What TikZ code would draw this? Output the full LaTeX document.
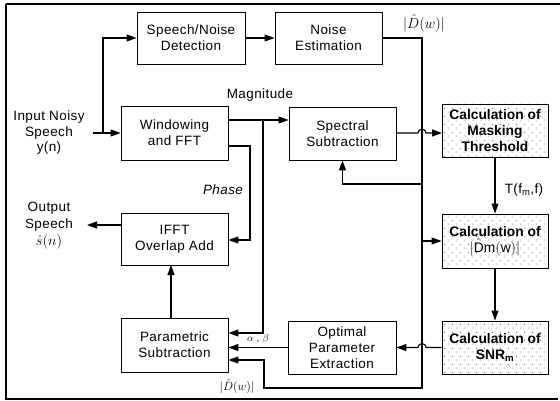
\documentclass[tikz,border=0pt]{standalone}
\usepackage{fontspec}
\setmainfont[LetterSpace=3]{Liberation Sans}
\newfontfamily\calcfont{Liberation Sans}
\usetikzlibrary{arrows.meta,patterns}
\pgfdeclarepatternformonly{sparsedots}{\pgfqpoint{0pt}{0pt}}{\pgfqpoint{8pt}{8pt}}{\pgfqpoint{8pt}{8pt}}{%
  \pgfpathcircle{\pgfqpoint{1pt}{1pt}}{0.55pt}%
  \pgfpathcircle{\pgfqpoint{5pt}{5pt}}{0.55pt}%
  \pgfusepath{fill}}
\tikzset{
  blk/.style={draw, line width=0.9pt, minimum width=107pt, minimum height=53pt,
    align=center, inner sep=0pt, font=\fontsize{13.5}{16}\selectfont},
  dblk/.style={blk, pattern=sparsedots, pattern color=black!75,
    font=\calcfont\fontsize{13.8}{16}\selectfont\bfseries},
  lbl/.style={align=center, inner sep=0pt, font=\fontsize{13.5}{15.5}\selectfont},
  arr/.style={-{Triangle[length=10pt,width=7pt]}, line width=1.1pt},
  frame/.style={line width=1.6pt}
}
\begin{document}
\begin{tikzpicture}[x=1pt,y=-1pt]
\useasboundingbox (0,0) rectangle (560,401);
% frame
\coordinate (f1) at (560,4);
\coordinate (f2) at (6,4);
\coordinate (f3) at (6,399);
\coordinate (f4) at (558,399);
\draw[frame, line width=2pt] (f1) -- (f2);
\draw[frame] (f2) -- (f3) -- (f4);

% blocks
\node[blk, minimum width=108pt, minimum height=52pt] (sn) at (191,38) {Speech/Noise\\Detection};
\node[blk, minimum height=52pt] (ne) at (328.5,38) {Noise\\Estimation};
\node[blk, minimum height=54pt] (wf) at (174.5,133) {Windowing\\and FFT};
\node[blk] (ss) at (342.5,133.5) {Spectral\\Subtraction};
\node[dblk, minimum width=106pt] (mt) at (495,130.5) {Calculation of\\Masking\\Threshold};
\node[blk, minimum height=52pt] (ifft) at (174.5,239) {IFFT\\Overlap Add};
\node[blk, minimum height=54pt] (ps) at (174.5,345) {Parametric\\Subtraction};
\node[blk, minimum width=108pt] (op) at (342,347.5) {Optimal\\Parameter\\Extraction};
\node[dblk, minimum width=106pt, minimum height=54pt] (dm) at (495,241) {Calculation of\\\mdseries$|\hat{\mathrm{D}}\mathrm{m}(\mathrm{w})|$};
\node[dblk, minimum width=106pt] (snr) at (495,347.5) {Calculation of\\SNR\textsubscript{m}};

% labels
\node[lbl] (inl) at (49,133) {Input Noisy\\Speech\\y(n)};
\node[lbl, font=\fontsize{13.5}{17}\selectfont] (outl) at (49,226) {Output\\Speech\\$\hat{s}(n)$};
\node[lbl] (magl) at (260,95) {Magnitude};
\node[lbl, font=\fontsize{13.5}{16}\selectfont\itshape] (phl) at (223,190) {Phase};
\node[lbl] (dtl) at (424,23) {$|\hat{D}(w)|$};
\node[lbl, font=\fontsize{13}{15}\selectfont] (dbl) at (237,386) {$|\hat{D}(w)|$};
\node[lbl] (tl) at (524,190) {T(f\textsubscript{m},f)};
\node[lbl, font=\fontsize{10}{12}\selectfont] (abl) at (258,339) {$\alpha$ , $\beta$};

% input
\coordinate (inr) at (93,133);
\coordinate (inb) at (103,133);
\draw[arr] (inr) -- (wf.west);
\draw[arr] (inb) |- (sn.west);
\draw[arr] (sn) -- (ne);

% noise estimate distribution
\coordinate (dtop) at (422,38);
\coordinate (dbot) at (422,388);
\coordinate (dl) at (264,388);
\coordinate (dp) at (264,360);
\draw[arr] (ne.east) -- (dtop) -- (dbot) -- (dl) -- (dp) -- (dp -| ps.east);
\coordinate (fb) at (422,184);
\draw[arr] (fb) -| (ss.south);
\coordinate (fd) at (422,241);
\draw[arr] (fd) -- (dm.west);

% magnitude
\coordinate (m0) at (228,120);
\coordinate (mb) at (263,120);
\coordinate (mbb) at (263,333);
\draw[arr] (m0) -- (m0 -| ss.west);
\draw[arr] (mb) -- (mbb) -- (mbb -| ps.east);

% phase
\coordinate (p0) at (228,146);
\coordinate (p2) at (250,240);
\draw[arr] (p0) -| (p2) -- (p2 -| ifft.east);

% spectral -> masking with hop
\coordinate (s0) at (396,133);
\coordinate (h1) at (418,133);
\coordinate (s1) at (442,133);
\draw[arr] (s0) -- (h1) arc[start angle=180, end angle=0, radius=4pt] -- (s1);

\draw[arr] (mt.south) -- (dm.north);
\draw[arr] (dm.south) -- (snr.north);

% snr -> optimal with hop
\coordinate (h2) at (426,347.5);
\draw[arr] (snr.west) -- (h2) arc[start angle=0, end angle=180, radius=4pt] -- (op.east);

% optimal -> parametric
\draw[arr] (op.west) -- (op.west -| ps.east);

% parametric -> ifft
\coordinate (pu) at (171,318);
\coordinate (pd) at (171,265);
\draw[arr] (pu) -- (pd);

% ifft -> output
\coordinate (o0) at (121,225);
\coordinate (o1) at (87,225);
\draw[arr] (o0) -- (o1);
\end{tikzpicture}
\end{document}
